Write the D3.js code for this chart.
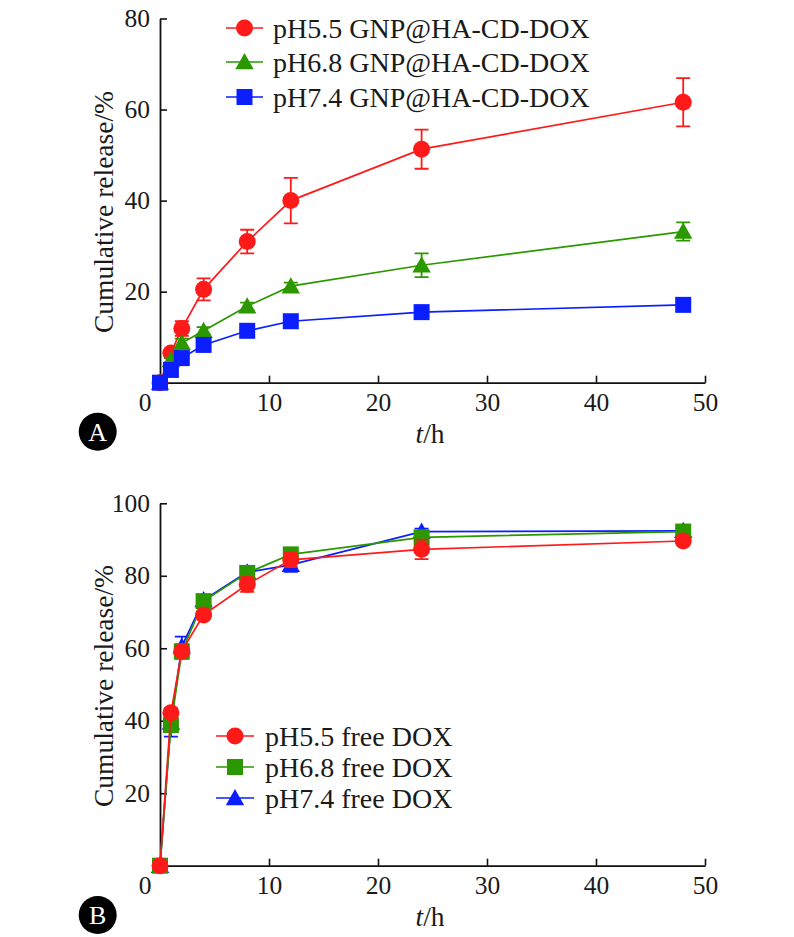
<!DOCTYPE html>
<html>
<head>
<meta charset="utf-8">
<script src="https://cdn.jsdelivr.net/npm/d3@7"></script>
<style>
  html, body { margin: 0; padding: 0; background: #fff; }
  svg { display: block; }
  text { font-family: "Liberation Serif", "Times New Roman", serif; fill: #1a1a1a; }
</style>
</head>
<body>
<svg id="chart" width="794" height="937"></svg>
<script>
// ---------------- DATA ----------------
const timePoints = [0, 1, 2, 4, 8, 12, 24, 48];

// Panel A: GNP@HA-CD-DOX
const seriesNamesA = ["pH5.5 GNP@HA-CD-DOX", "pH6.8 GNP@HA-CD-DOX", "pH7.4 GNP@HA-CD-DOX"];
const aPH55 = [0, 6.5, 11.9, 20.5, 31.0, 40.0, 51.3, 61.6];
const aPH55Err = [0, 1.0, 1.6, 2.4, 2.6, 5.0, 4.3, 5.3];
const aPH68 = [0, 5.0, 8.7, 11.4, 16.8, 21.2, 25.8, 33.2];
const aPH68Err = [0, 0.5, 1.0, 0.8, 0.8, 0.8, 2.6, 2.0];
const aPH74 = [0, 2.8, 5.4, 8.3, 11.4, 13.5, 15.5, 17.1];
const aPH74Err = [0, 0.5, 0.5, 0.5, 0.5, 0.5, 0.5, 1.0];

// Panel B: free DOX
const seriesNamesB = ["pH5.5 free DOX", "pH6.8 free DOX", "pH7.4 free DOX"];
const bPH55 = [0, 42.2, 59.2, 69.2, 77.6, 84.4, 87.3, 89.6];
const bPH55Err = [0, 1.0, 1.0, 1.0, 2.0, 2.0, 2.7, 1.0];
const bPH68 = [0, 38.8, 59.1, 73.0, 80.8, 85.9, 90.6, 92.2];
const bPH68Err = [0, 1.5, 2.0, 1.0, 1.0, 1.7, 1.0, 1.0];
const bPH74 = [0, 39.5, 60.5, 73.3, 81.0, 83.0, 92.2, 92.4];
const bPH74Err = [0, 3.9, 2.7, 1.0, 1.0, 1.9, 0.8, 0.8];

const xTicks = [0, 10, 20, 30, 40, 50];
const yTicksA = [20, 40, 60, 80];
const yTicksB = [20, 40, 60, 80, 100];

// ---------------- STYLE ----------------
const RED = "#ff1a1a", GREEN = "#2b9800", BLUE = "#0a1eff";

const svg = d3.select("#chart");

function markerPath(shape) {
  if (shape === "circle") return d3.symbol(d3.symbolCircle, 227)();
  if (shape === "square") return "M-8,-8H8V8H-8Z";
  return "M0,-9L9.2,7.2L-9.2,7.2Z";
}

function drawPanel(cfg) {
  const x = d3.scaleLinear().domain([0, 50]).range([160, 705]);
  const y = d3.scaleLinear().domain([0, cfg.yMax]).range([cfg.y0, cfg.yTop]);
  const g = svg.append("g");

  // axes
  const xAxis = d3.axisBottom(x).tickValues(xTicks.filter(d => d > 0))
    .tickSizeInner(-7).tickSizeOuter(0).tickPadding(10.5);
  const gx = g.append("g").attr("transform", `translate(0,${cfg.y0})`).call(xAxis);
  const yAxis = d3.axisLeft(y).tickValues(cfg.yTicks)
    .tickSizeInner(-7).tickSizeOuter(0).tickPadding(10);
  const gy = g.append("g").attr("transform", `translate(160,0)`).call(yAxis);
  [gx, gy].forEach(a => {
    a.select(".domain").attr("stroke", "#111").attr("stroke-width", 1.8);
    a.selectAll(".tick line").attr("stroke", "#111").attr("stroke-width", 1.6);
    a.selectAll(".tick text").attr("font-size", 25.5).attr("font-family", "Liberation Serif").attr("fill", "#1a1a1a");
  });
  // origin label "0"
  g.append("text").attr("x", x(0) - 15).attr("y", cfg.y0 + 28.5)
    .attr("text-anchor", "middle").attr("font-size", 25.5).text(xTicks[0]);

  // axis titles
  g.append("text").attr("transform", `translate(113,${cfg.titleY}) rotate(-90)`)
    .attr("text-anchor", "middle").attr("font-size", 27.5).text("Cumulative release/%");
  const th = g.append("text").attr("x", 430).attr("y", cfg.y0 + 60)
    .attr("text-anchor", "middle").attr("font-size", 27.5);
  th.append("tspan").attr("font-style", "italic").text("t");
  th.append("tspan").text("/h");

  // panel badge
  g.append("circle").attr("cx", 97.7).attr("cy", cfg.badgeY).attr("r", 19).attr("fill", "#000");
  g.append("text").attr("x", 97.7).attr("y", cfg.badgeY + 9).attr("text-anchor", "middle")
    .attr("font-size", 26).style("fill", "#fff").text(cfg.badge);

  // series
  const line = d3.line().x((d, i) => x(timePoints[i])).y(d => y(d));
  cfg.series.forEach(s => {
    const sg = g.append("g");
    sg.append("path").datum(s.values).attr("d", line)
      .attr("fill", "none").attr("stroke", s.color).attr("stroke-width", 1.7);
    s.values.forEach((v, i) => {
      const e = s.err[i];
      if (e > 0) {
        const cx = x(timePoints[i]);
        sg.append("path")
          .attr("d", `M${cx},${y(v - e)}V${y(v + e)}M${cx - 7},${y(v + e)}H${cx + 7}M${cx - 7},${y(v - e)}H${cx + 7}`)
          .attr("stroke", s.color).attr("stroke-width", 1.8).attr("fill", "none");
      }
    });
    sg.selectAll("path.mk").data(s.values).enter().append("path").attr("class", "mk")
      .attr("d", markerPath(s.shape))
      .attr("transform", (d, i) => `translate(${x(timePoints[i])},${y(d)})`)
      .attr("fill", s.color);
  });

  // legend
  cfg.legend.forEach((s, i) => {
    const cy = cfg.legY[i];
    g.append("line").attr("x1", cfg.legX1).attr("x2", cfg.legX2).attr("y1", cy).attr("y2", cy)
      .attr("stroke", s.color).attr("stroke-width", 1.7);
    g.append("path").attr("d", markerPath(s.shape))
      .attr("transform", `translate(${(cfg.legX1 + cfg.legX2) / 2},${cy})`).attr("fill", s.color);
    g.append("text").attr("x", cfg.legTextX).attr("y", cy + 9.5).attr("font-size", 28).text(s.name);
  });
}

const sA = [
  { name: seriesNamesA[0], values: aPH55, err: aPH55Err, color: RED, shape: "circle" },
  { name: seriesNamesA[1], values: aPH68, err: aPH68Err, color: GREEN, shape: "triangle" },
  { name: seriesNamesA[2], values: aPH74, err: aPH74Err, color: BLUE, shape: "square" }
];
drawPanel({
  yMax: 80, y0: 382.7, yTop: 18.5, yTicks: yTicksA, titleY: 212, badge: "A", badgeY: 431.7,
  series: sA, legend: sA, legY: [28, 62, 97], legX1: 226, legX2: 263, legTextX: 273
});

const sB = [
  { name: seriesNamesB[0], values: bPH55, err: bPH55Err, color: RED, shape: "circle" },
  { name: seriesNamesB[1], values: bPH68, err: bPH68Err, color: GREEN, shape: "square" },
  { name: seriesNamesB[2], values: bPH74, err: bPH74Err, color: BLUE, shape: "triangle" }
];
drawPanel({
  yMax: 100, y0: 865.7, yTop: 503.3, yTicks: yTicksB, titleY: 686, badge: "B", badgeY: 915,
  series: [sB[2], sB[1], sB[0]], legend: sB, legY: [736, 767, 798], legX1: 216, legX2: 254, legTextX: 265
});
</script>
</body>
</html>
